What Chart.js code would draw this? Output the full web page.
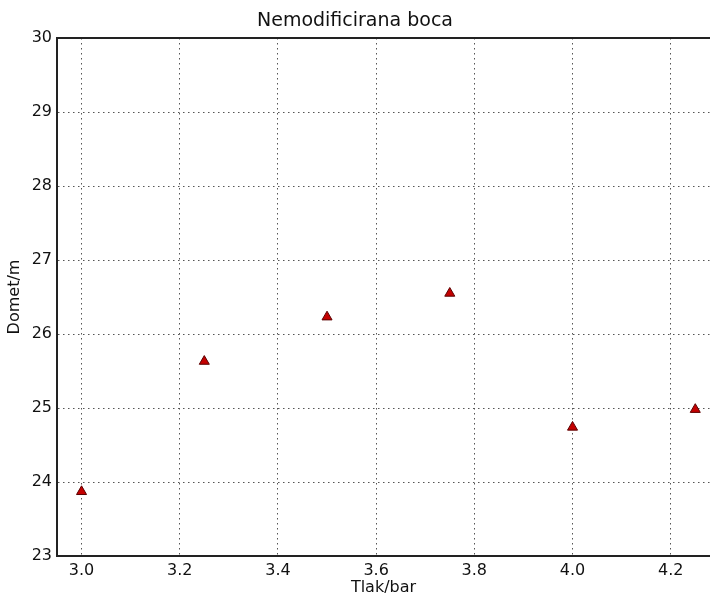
<!DOCTYPE html>
<html>
<head>
<meta charset="utf-8">
<script src="https://cdn.jsdelivr.net/npm/chart.js@4"></script>
<style>
  html, body { margin: 0; padding: 0; background: #fff; }
  #wrap { width: 710px; height: 596px; }
</style>
</head>
<body>
<div id="wrap"><canvas id="chart"></canvas></div>
<script>
// podaci očitani sa slike
const tlak = [3.0, 3.25, 3.5, 3.75, 4.0, 4.25];
const domet = [23.87, 25.63, 26.23, 26.55, 24.74, 24.98];
const xTicks = [3.0, 3.2, 3.4, 3.6, 3.8, 4.0, 4.2];
const yTicks = [23, 24, 25, 26, 27, 28, 29, 30];

const font = 'DejaVu Sans';
const points = tlak.map((x, i) => ({ x: x, y: domet[i] }));

new Chart(document.getElementById('chart'), {
    type: 'scatter',
    data: {
        datasets: [{
            data: points,
            pointStyle: 'triangle',
            pointRadius: 5.8,
            backgroundColor: '#c40000',
            borderColor: '#5a0000',
            borderWidth: 1
        }]
    },
    options: {
        responsive: true,
        maintainAspectRatio: false,
        animation: false,
        layout: { padding: 0, autoPadding: false },
        plugins: {
            legend: { display: false },
            tooltip: { enabled: false },
            title: {
                display: true,
                text: 'Nemodificirana boca',
                color: '#111',
                font: { family: font, size: 19, weight: 'normal' },
                padding: { top: 10, bottom: 5.2 }
            }
        },
        scales: {
            x: {
                type: 'linear',
                min: 2.95,
                max: 4.28,
                afterBuildTicks: s => { s.ticks = xTicks.map(v => ({ value: v })); },
                afterFit: s => { s.height = 40; },
                ticks: {
                    color: '#111',
                    padding: 5,
                    font: { family: font, size: 16 },
                    callback: v => Number(v).toFixed(1)
                },
                grid: { color: '#555', lineWidth: 1, drawTicks: false },
                border: { color: '#222', width: 2, dash: [1.5, 3.5] },
                title: {
                    display: true,
                    text: 'Tlak/bar',
                    color: '#111',
                    font: { family: font, size: 16, lineHeight: 1 },
                    padding: 0
                }
            },
            xTop: {
                type: 'linear',
                position: 'top',
                min: 2.95,
                max: 4.28,
                afterFit: s => { s.height = 0; },
                ticks: { display: false },
                grid: { display: false, drawTicks: false },
                border: { color: '#222', width: 2 }
            },
            y: {
                type: 'linear',
                min: 23,
                max: 30,
                afterBuildTicks: s => { s.ticks = yTicks.map(v => ({ value: v })); },
                afterFit: s => { s.width = 57; },
                ticks: {
                    color: '#111',
                    padding: 5,
                    font: { family: font, size: 16 },
                    callback: v => String(v)
                },
                grid: { color: '#555', lineWidth: 1, drawTicks: false },
                border: { color: '#222', width: 2, dash: [1.5, 3.5] },
                title: {
                    display: true,
                    text: 'Domet/m',
                    color: '#111',
                    font: { family: font, size: 16, lineHeight: 1 },
                    padding: { top: 7, bottom: 0 }
                }
            }
        }
    }
});
</script>
</body>
</html>
